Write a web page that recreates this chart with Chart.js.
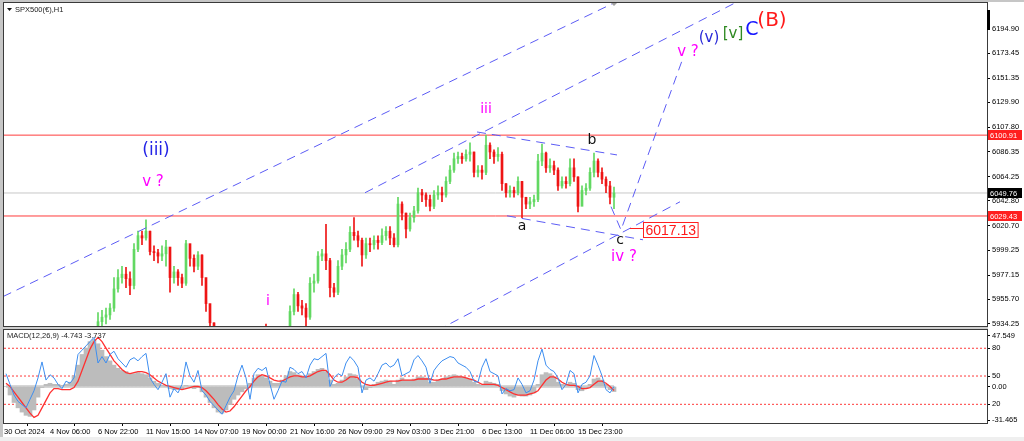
<!DOCTYPE html>
<html><head><meta charset="utf-8">
<script src="https://cdn.jsdelivr.net/npm/chart.js@4.4.1/dist/chart.umd.min.js"></script>
<style>
html,body{margin:0;padding:0;background:#fff;width:1024px;height:441px;overflow:hidden;position:relative}
canvas{position:absolute;left:0}
#c1{top:0}
#c2{top:327px}
.strip{position:absolute;background:#c6c6c6}
</style></head>
<body>
<canvas id="c1" width="1024" height="327"></canvas>
<canvas id="c2" width="1024" height="114"></canvas>
<div class="strip" style="left:0;top:0;width:1024px;height:2px"></div>
<div class="strip" style="left:0;top:0;width:3px;height:437px"></div>
<div class="strip" style="left:0;top:437px;width:1024px;height:4px;background:#efefef"></div>
<script>
// ---------- DATA ----------
const firstOpen = 5884;
const closeP = [5880,5872,5865,5860,5855,5850,5858,5866,5878,5890,
5885,5888,5884,5880,5878,5882,5884,5890,5905,5912,
5918,5925,5928,5936,5940,5942,5948,5965,5975,5978,
5974,5968,6000,6012,6010,6016,5998,5997,5994,5996,
6002,5975,5980,5975,5970,6005,5992,5985,5995,5975,
5952,5935,5920,5912,5905,5898,5892,5896,5902,5908,
5915,5910,5918,5922,5926,5925,5918,5910,5906,5914,
5926,5945,5960,5950,5948,5940,5970,5972,5994,5996,
5990,5966,5962,5985,5995,6000,6015,6012,6008,5995,
6005,6004,6008,6006,6012,6016,6010,6004,6040,6032,
6018,6028,6034,6050,6048,6044,6038,6048,6050,6048,
6060,6070,6080,6082,6080,6084,6086,6068,6070,6068,
6092,6086,6082,6084,6058,6050,6052,6050,6060,6046,
6040,6042,6044,6078,6085,6072,6074,6070,6056,6060,
6058,6072,6064,6038,6052,6054,6068,6078,6068,6062,
6056,6046,6049.76];
const highP = [5888,5882,5874,5868,5863,5858,5862,5870,5882,5895,
5893,5892,5892,5887,5884,5886,5889,5895,5910,5916,
5922,5929,5931,5944,5946,5948,5952,5975,5982,5985,
5984,5980,6005,6016,6016,6026,6016,6003,6000,6003,
6008,5995,5985,5982,5978,6008,6000,5995,5998,5995,
5970,5950,5935,5922,5914,5908,5900,5902,5906,5913,
5920,5918,5922,5927,5930,5934,5927,5920,5914,5918,
5931,5950,5965,5962,5955,5952,5975,5978,5998,6000,
6022,5992,5970,5990,6000,6006,6020,6028,6016,6010,
6010,6010,6012,6012,6018,6020,6020,6014,6046,6042,
6032,6032,6038,6054,6053,6050,6048,6052,6056,6055,
6064,6074,6085,6086,6085,6088,6094,6086,6074,6074,
6101,6094,6088,6090,6086,6058,6056,6055,6064,6060,
6046,6046,6048,6084,6093,6086,6080,6078,6072,6064,
6064,6080,6080,6064,6056,6058,6072,6085,6080,6072,
6064,6060,6055];
const lowP = [5874,5868,5860,5854,5850,5844,5846,5855,5864,5876,
5880,5880,5880,5876,5873,5875,5878,5882,5888,5902,
5908,5914,5920,5925,5930,5934,5938,5945,5962,5970,
5966,5960,5965,5998,6004,6008,5995,5990,5988,5990,
5985,5962,5970,5968,5966,5968,5985,5980,5982,5968,
5945,5928,5912,5905,5898,5892,5886,5888,5893,5900,
5905,5904,5908,5914,5918,5918,5912,5904,5900,5904,
5912,5925,5942,5945,5942,5932,5938,5962,5970,5990,
5982,5958,5958,5960,5982,5988,5998,6008,6002,5985,
5992,5998,6000,6000,6004,6008,6004,6002,6002,6026,
6010,6016,6024,6032,6042,6038,6034,6036,6044,6042,
6046,6058,6068,6076,6076,6078,6078,6064,6064,6062,
6066,6080,6076,6078,6052,6046,6046,6046,6048,6028,
6036,6036,6038,6042,6074,6068,6068,6066,6052,6054,
6054,6056,6060,6033,6040,6048,6052,6064,6064,6058,
6050,6040,6036];

// MACD window values
const macdMain = [0,-8,-15,-20,-24,-27,-28,-22,-10,-1,
2,3,2,2,1,2,4,10,20,30,
36,42,44,40,34,28,24,20,17,15,
14,12,12,13,12,11,8,5,3,1,
0,-2,-3,-3,-2,1,0,-2,-1,-5,
-10,-15,-20,-24,-25,-22,-17,-12,-8,-5,
-2,3,8,11,10,8,5,3,3,6,
10,14,13,11,10,9,12,14,16,17,
14,6,2,3,6,9,12,11,7,0,
-3,-1,2,4,5,6,5,2,6,8,
6,6,7,9,9,8,4,4,6,7,
9,10,11,10,9,8,7,4,2,1,
5,4,3,2,-4,-7,-9,-10,-8,-9,
-9,-8,-6,2,11,13,12,9,4,2,
1,4,3,-3,-4,-2,2,7,8,6,
2,-3,-4.743];
const macdSignal = [3,0,-5,-10,-15,-20,-25,-29,-27,-20,
-13,-6,-2,-2,-3,-3,-3,-1,5,15,
25,35,42,46,42,36,30,24,20,16,
13,12,13,14,14,13,11,8,5,3,
1,0,-1,-2,-3,-2,-1,0,0,-1,
-4,-8,-12,-17,-21,-24,-23,-19,-14,-9,
-4,0,5,9,11,10,8,6,5,5,
7,9,10,10,9,9,10,12,14,15,
15,11,6,4,4,6,9,9,8,4,
2,1,1,2,3,4,5,5,5,6,
6,6,6,7,7,7,7,6,6,7,
7,8,9,9,9,8,7,6,4,2,
2,2,2,1,-1,-3,-5,-7,-8,-8,
-8,-7,-6,-4,1,6,9,9,7,4,
2,1,1,0,-2,-2,-1,2,5,5,
3,0,-3.737];
const blueLine = [12,2,-8,-14,-17,-20,-12,-4,8,23,
6,11,8,2,-2,5,3,8,30,34,
38,42,46,22,28,22,30,33,26,22,
18,25,27,24,28,31,8,2,-3,4,
12,-10,-2,-6,2,23,10,4,15,-4,
-8,-14,-18,-22,-26,-18,-10,-4,10,20,
8,-12,12,17,15,18,2,-12,-4,5,
4,18,16,12,14,8,20,26,25,28,
31,0,8,12,10,22,28,24,18,-6,
6,8,5,12,20,22,18,20,26,10,
12,14,25,29,24,18,3,15,20,24,
26,28,27,22,20,18,14,5,4,18,
26,14,12,10,-7,-2,-4,-3,8,2,
-6,-4,6,24,35,20,16,14,8,-3,
2,15,12,-6,2,4,10,29,20,10,
-3,-6,0];

const priceTicks = [6194.90,6173.45,6151.35,6129.90,6107.80,6086.35,6064.25,6042.80,6020.70,5999.25,5977.15,5955.70,5934.25];
const timeLabels = ['30 Oct 2024','4 Nov 06:00','6 Nov 22:00','11 Nov 15:00','14 Nov 07:00','19 Nov 00:00','21 Nov 16:00','26 Nov 09:00','29 Nov 03:00','3 Dec 21:00','6 Dec 13:00','11 Dec 06:00','15 Dec 23:00'];
const timeTickIdx = [-0.5,11,23,35,47,59,71,83,95,107,119,131,143];
const redLevels = [6100.91, 6029.43];
const bidPrice = 6049.76;
const targetPrice = 6017.13;
const macdTickVals = [47.549, 35.8, 9.8, 0, -16.7, -31.465];
const macdTickText = ['47.549','80','50','0.00','20','-31.465'];
const macdLevels = [35.8, 9.8, -16.7];

// trend lines, in [bar index, price]
const trendLines = [
  [[-0.75,5958.2],[173.5,6254.3]],
  [[89.75,6050.0],[198.5,6247.2]],
  [[104.5,5922.0],[168.5,6042.0]],
  [[117.75,6103.7],[152.75,6083.4]],
  [[125.25,6029.6],[159.25,6008.4]],
  [[151.25,6037.7],[153.75,targetPrice],[169.25,6169.1]]
];

const waveLabels = [
  {t:'(iii)', i:37.5, p:6087.0, c:'#2424e6', s:17},
  {t:'v ?',   i:36.75, p:6059.7, c:'#ff00ff', s:15},
  {t:'iii',   i:120, p:6124.0, c:'#ff00ff', s:14},
  {t:'i',     i:65.5, p:5953.6, c:'#ff00ff', s:14},
  {t:'a',     i:129, p:6020.0, c:'#111111', s:14},
  {t:'b',     i:146.5, p:6096.0, c:'#111111', s:14},
  {t:'c',     i:153.5, p:6007.6, c:'#111111', s:14},
  {t:'iv ?',  i:154.5, p:5993.5, c:'#ff00ff', s:15},
  {t:'v ?',   i:170.5, p:6174.4, c:'#ff00ff', s:15},
  {t:'(v)',   i:175.75, p:6186.8, c:'#2a2ad8', s:15},
  {t:'[v]',   i:181.75, p:6190.3, c:'#2f8a22', s:15},
  {t:'C',     i:186.5, p:6193.9, c:'#1515ff', s:19},
  {t:'(B)',   i:191.5, p:6201.8, c:'#ff1a1a', s:20}
];

// ---------- BUILD ----------
const N = closeP.length;
const XMIN = -0.5, XMAX = 245.25;
const openP = closeP.map((c,i)=> i===0 ? firstOpen : closeP[i-1]);
const candleColor = closeP.map((c,i)=> c >= openP[i] ? '#62d862' : '#ee1515');
const DASH='#5c5cf5';
const FONT='Liberation Sans';

const noPad = ax => { ax.paddingTop = 0; ax.paddingBottom = 0; ax.paddingLeft = 0; ax.paddingRight = 0; };

const hline = (v, color, w, dash, order) => ({
  type:'line', data:[{x:XMIN,y:v},{x:XMAX,y:v}], borderColor:color, borderWidth:w,
  borderDash:dash||[], pointRadius:0, order:order, clip:0
});

const frame = {
  id:'frame',
  afterDraw(chart){
    const {ctx, chartArea:a} = chart;
    ctx.save();
    ctx.strokeStyle='#3a3a3a'; ctx.lineWidth=1;
    ctx.strokeRect(a.left-0.5, a.top-0.5, a.right-a.left+1, a.bottom-a.top+1);
    ctx.restore();
  }
};

const annot = {
  id:'annot',
  afterDatasetsDraw(chart){
    const {ctx, scales:{x,y}} = chart;
    ctx.save();
    ctx.textAlign='center'; ctx.textBaseline='middle';
    waveLabels.forEach(l=>{
      ctx.font = l.s+'px "DejaVu Sans"';
      ctx.fillStyle = l.c;
      ctx.fillText(l.t, x.getPixelForValue(l.i), y.getPixelForValue(l.p));
    });
    // target box
    const bx = x.getPixelForValue(159.25), by = y.getPixelForValue(targetPrice);
    const cx = x.getPixelForValue(156), cy = by - 2;
    ctx.strokeStyle='#ff2020'; ctx.lineWidth=1;
    ctx.beginPath(); ctx.moveTo(cx, Math.round(cy)+0.5); ctx.lineTo(bx, Math.round(cy)+0.5); ctx.stroke();
    ctx.font = '14px "'+FONT+'"';
    const txt = targetPrice.toFixed(2);
    const w = ctx.measureText(txt).width + 4;
    ctx.fillStyle='#fff';
    ctx.fillRect(Math.round(bx)+0.5, Math.round(by-7.5)+0.5, w, 15);
    ctx.strokeRect(Math.round(bx)+0.5, Math.round(by-7.5)+0.5, w, 15);
    ctx.fillStyle='#ff1a1a'; ctx.textAlign='left';
    ctx.fillText(txt, Math.round(bx)+2.5, by+1);
    // title
    ctx.fillStyle='#111';
    ctx.beginPath(); ctx.moveTo(7,8); ctx.lineTo(12,8); ctx.lineTo(9.5,11); ctx.closePath(); ctx.fill();
    ctx.font='7.5px "'+FONT+'"'; ctx.fillStyle='#222'; ctx.textAlign='left';
    ctx.fillText('SPX500(€),H1', 15, 9.5);
    // chart shift marker
    const sx = x.getPixelForValue(152);
    ctx.fillStyle='#a0a0a0';
    ctx.beginPath(); ctx.moveTo(sx-3,3); ctx.lineTo(sx+3,3); ctx.lineTo(sx,6); ctx.closePath(); ctx.fill();
    ctx.restore();
  },
  afterDraw(chart){
    const {ctx, scales:{y}, chartArea:a} = chart;
    ctx.save();
    ctx.font='7.5px "'+FONT+'"'; ctx.textBaseline='middle'; ctx.textAlign='left';
    const tag = (v, bg) => {
      const py = Math.round(y.getPixelForValue(v));
      ctx.fillStyle=bg; ctx.fillRect(a.right+1, py-5, 34, 10);
      ctx.fillStyle='#fff'; ctx.fillText(v.toFixed(2), a.right+3, py+0.5);
    };
    redLevels.forEach(v=>tag(v,'#ff1f1f'));
    tag(bidPrice,'#000');
    ctx.fillStyle='#000'; ctx.fillRect(a.right, 10, 3, 20);
    ctx.restore();
  }
};

new Chart(document.getElementById('c1'), {
  type:'bar',
  data:{datasets:[
    ...trendLines.map(pts=>({type:'line', data:pts.map(p=>({x:p[0],y:p[1]})), borderColor:DASH, borderWidth:1, borderDash:[9,6], pointRadius:0, order:0})),
    {type:'bar', data:closeP.map((c,i)=>({x:i,y:[openP[i],c]})), backgroundColor:candleColor, barThickness:2, grouped:false, minBarLength:1, order:2},
    {type:'bar', data:closeP.map((c,i)=>({x:i,y:[lowP[i],highP[i]]})), backgroundColor:candleColor, barThickness:1, grouped:false, order:3},
    ...redLevels.map(v=>hline(v,'#ff3b3b',1,[],5)),
    hline(bidPrice,'#c8c8c8',1,[],6)
  ]},
  options:{
    responsive:false, animation:false, devicePixelRatio:1,
    layout:{padding:{left:4, top:3, right:0, bottom:1}},
    plugins:{legend:{display:false}, tooltip:{enabled:false}},
    scales:{
      x:{type:'linear', min:XMIN, max:XMAX, offset:false, display:false},
      y:{position:'right', min:5932.2, max:6217.7,
        afterBuildTicks: ax => { ax.ticks = priceTicks.map(v=>({value:v})); },
        afterFit: ax => { ax.width = 37; noPad(ax); },
        ticks:{callback:v=>Number(v).toFixed(2), font:{family:FONT, size:7.5}, color:'#000', padding:2, autoSkip:false},
        grid:{drawOnChartArea:false, drawTicks:true, tickLength:3, color:'#000'},
        border:{display:false}
      }
    }
  },
  plugins:[frame, annot]
});

const macdPlug = {
  id:'macdPlug',
  beforeDraw(chart){
    const {ctx, chartArea:a} = chart;
    ctx.save(); ctx.fillStyle='#cfcfcf'; ctx.fillRect(0,0,a.right+1,a.top-1); ctx.restore();
  },
  afterDraw(chart){
    const {ctx} = chart;
    ctx.save();
    ctx.font='7.5px "'+FONT+'"'; ctx.fillStyle='#222'; ctx.textBaseline='middle'; ctx.textAlign='left';
    ctx.fillText('MACD(12,26,9) '+macdMain[N-1].toFixed(3)+' '+macdSignal[N-1].toFixed(3), 7, 9);
    ctx.restore();
  }
};

new Chart(document.getElementById('c2'), {
  type:'bar',
  data:{datasets:[
    {type:'line', data:blueLine.map((v,i)=>({x:i,y:v})), borderColor:'#3d8ef0', borderWidth:1, pointRadius:0, order:0},
    {type:'line', data:macdSignal.map((v,i)=>({x:i,y:v})), borderColor:'#ff3030', borderWidth:1.3, pointRadius:0, order:1},
    {type:'line', data:[{x:0,y:0},{x:N-1,y:0}], borderColor:'#d6d6d6', borderWidth:3, pointRadius:0, order:3},
    {type:'bar', data:macdMain.map((v,i)=>({x:i,y:v})), backgroundColor:'#bcbcbc', barThickness:4, grouped:false, order:2},
    ...macdLevels.map(v=>hline(v,'#ff3a3a',1,[2,2],4))
  ]},
  options:{
    responsive:false, animation:false, devicePixelRatio:1,
    layout:{padding:{left:4, top:3, right:0, bottom:0}},
    plugins:{legend:{display:false}, tooltip:{enabled:false}},
    scales:{
      x:{type:'linear', min:XMIN, max:XMAX, offset:false, position:'bottom',
        afterBuildTicks: ax => { ax.ticks = timeTickIdx.map(v=>({value:v})); },
        afterFit: ax => { ax.height = 18; noPad(ax); },
        ticks:{callback:(v,i)=>timeLabels[i], align:'start', font:{family:FONT, size:7.5}, color:'#000', padding:1, maxRotation:0, autoSkip:false},
        grid:{drawOnChartArea:false, drawTicks:true, tickLength:3, color:'#000'},
        border:{display:false}
      },
      y:{position:'right', min:-34.2, max:52.9,
        afterBuildTicks: ax => { ax.ticks = macdTickVals.map(v=>({value:v})); },
        afterFit: ax => { ax.width = 37; noPad(ax); },
        ticks:{callback:(v,i)=>macdTickText[i], font:{family:FONT, size:7.5}, color:'#000', padding:2, autoSkip:false},
        grid:{drawOnChartArea:false, drawTicks:true, tickLength:3, color:'#000'},
        border:{display:false}
      }
    }
  },
  plugins:[frame, macdPlug]
});
</script>
</body></html>
